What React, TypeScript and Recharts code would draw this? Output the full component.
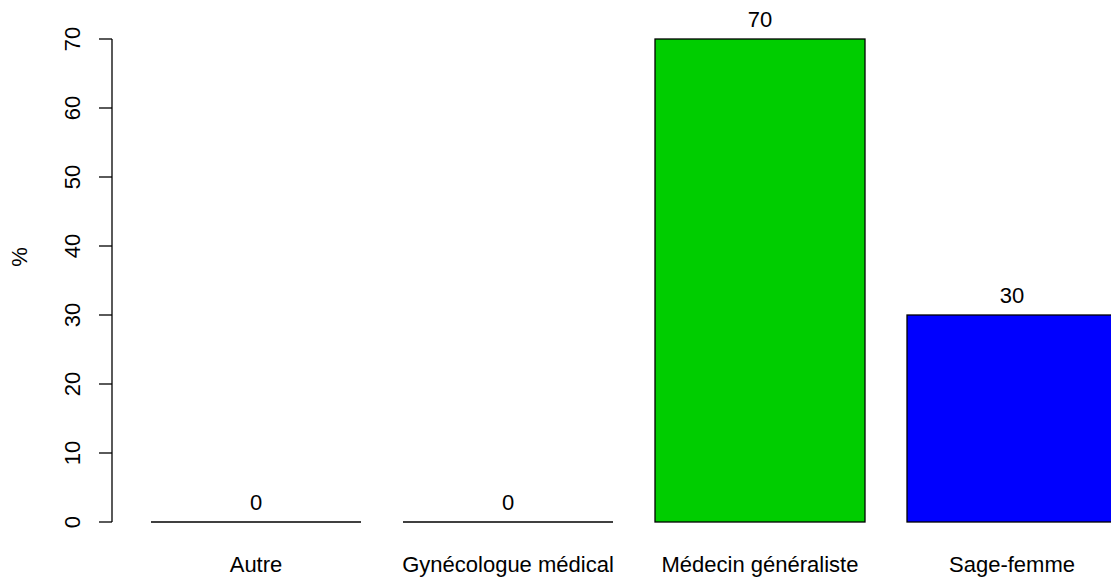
import React from 'react';
import { BarChart, Bar, XAxis, YAxis, LabelList, Cell } from 'recharts';

const categories = ['Autre', 'Gynécologue médical', 'Médecin généraliste', 'Sage-femme'];
const values = [0, 0, 70, 30];
const yTicks = [0, 10, 20, 30, 40, 50, 60, 70];
const barColors = ['#FF0000', '#FFA500', '#00CD00', '#0000FF'];

const data = categories.map((c, i) => ({ name: c, value: values[i] }));

const FONT = '"Liberation Sans", Arial, sans-serif';
const FS = 22;

const BarShape = (props: any) => {
  const { x, y, width, height, fill } = props;
  if (!height || Math.abs(height) < 0.5) {
    return <line x1={x} x2={x + width} y1={y} y2={y} stroke="#000" strokeWidth={1.3} />;
  }
  return <rect x={x} y={y} width={width} height={height} fill={fill} stroke="#000" strokeWidth={1.3} />;
};

const YTick = (props: any) => {
  const { x, y, payload } = props;
  const bx = x - 17;
  return (
    <text x={bx} y={y} transform={`rotate(-90, ${bx}, ${y})`} textAnchor="middle" fontSize={FS} fontFamily={FONT} fill="#000">
      {payload.value}
    </text>
  );
};

const XTick = (props: any) => {
  const { x, y, payload } = props;
  return (
    <text x={x} y={y} dy={49.5} textAnchor="middle" fontSize={FS} fontFamily={FONT} fill="#000">
      {payload.value}
    </text>
  );
};

const YLabel = () => (
  <text x={27} y={257} transform="rotate(-90, 27, 257)" textAnchor="middle" fontSize={FS} fontFamily={FONT} fill="#000">
    %
  </text>
);

export default function App() {
  return (
    <div style={{ position: 'absolute', left: 0, top: 0, width: 1111, height: 578, overflow: 'hidden', background: '#fff' }}>
      <BarChart width={1156} height={578} data={data} margin={{ top: 39, right: 0, bottom: 0, left: 0 }} barSize={210}>
        <XAxis
          dataKey="name"
          height={56}
          axisLine={false}
          tickLine={false}
          tickSize={0}
          tickMargin={0}
          padding={{ left: 18, right: 18 }}
          tick={<XTick />}
          interval={0}
        />
        <YAxis
          width={112}
          domain={[0, 70]}
          ticks={yTicks}
          tickSize={13}
          tickMargin={2}
          axisLine={{ stroke: '#000', strokeWidth: 1.3 }}
          tickLine={{ stroke: '#000', strokeWidth: 1.3 }}
          tick={<YTick />}
          label={<YLabel />}
          interval={0}
        />
        <Bar dataKey="value" isAnimationActive={false} shape={<BarShape />}>
          {data.map((d, i) => (
            <Cell key={d.name} fill={barColors[i]} />
          ))}
          <LabelList dataKey="value" position="top" offset={12} fontSize={FS} fontFamily={FONT} fill="#000" />
        </Bar>
      </BarChart>
    </div>
  );
}
